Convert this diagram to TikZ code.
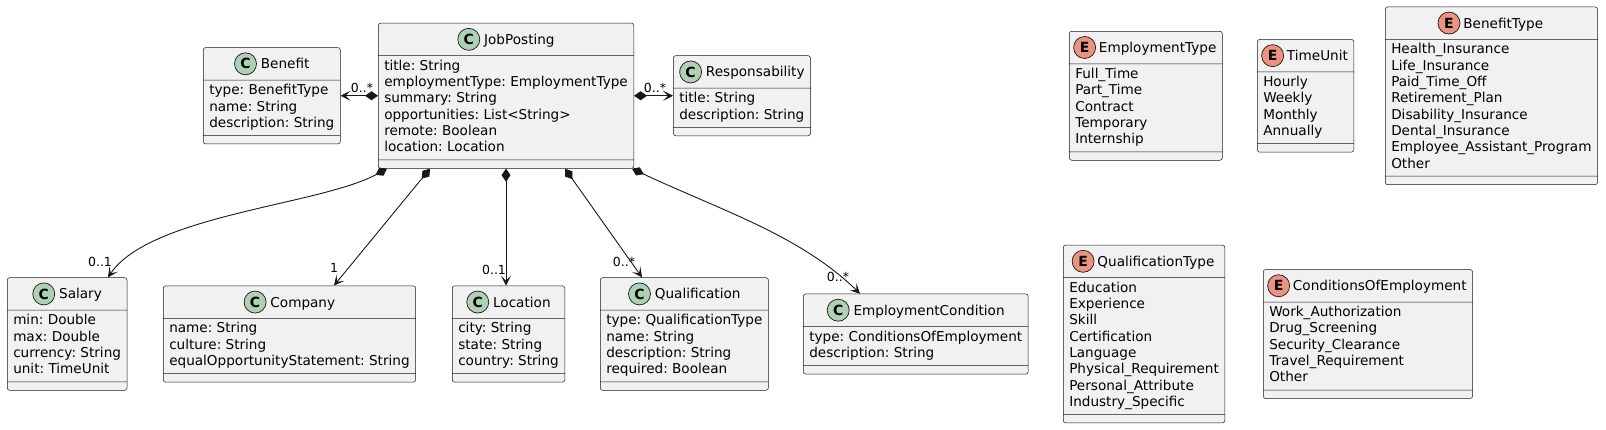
\documentclass[tikz,border=0pt]{standalone}
\usepackage{fontspec}
\setmainfont{DejaVu Sans}
\usetikzlibrary{math,shapes.multipart,arrows.meta}

\definecolor{boxfill}{HTML}{F1F1F1}
\definecolor{boxline}{HTML}{181818}
\definecolor{classicon}{HTML}{ADD1B2}
\definecolor{enumicon}{HTML}{EB937F}

\newsavebox\classbadge
\newsavebox\enumbadge
\newcommand\makebadge[3]{%
  \sbox#1{\begin{pgfpicture}\pgfsetbaseline{-5pt}%
    \pgfsetlinewidth{0.7pt}\pgfsetstrokecolor{boxline}\pgfsetfillcolor{#2}%
    \pgfpathcircle{\pgfpointorigin}{11pt}\pgfusepath{fill,stroke}%
    \pgftext{\fontsize{14}{14}\selectfont\bfseries #3}%
  \end{pgfpicture}}}
\AtBeginDocument{\makebadge\classbadge{classicon}{C}\makebadge\enumbadge{enumicon}{E}}
\newcommand\ctitle[1]{\rule[-8pt]{0pt}{26pt}\usebox\classbadge\hspace{4pt}#1}
\newcommand\etitle[1]{\rule[-8pt]{0pt}{26pt}\hspace{-2pt}\usebox\enumbadge\hspace{3pt}#1\hspace{-2pt}}
\newcommand\attrs[1]{\begin{tabular}{@{}l@{}}#1\end{tabular}}
\newcommand\nomethods{\rule{0pt}{2pt}}

\tikzset{
  umlclass/.style={rectangle split, rectangle split parts=3, draw=boxline, line width=0.5pt,
    fill=boxfill, rounded corners=2.5pt, inner xsep=6pt, inner ysep=3pt,
    rectangle split part align={center,left,left},
    anchor=west, font=\fontsize{13.6}{16.3}\selectfont\frenchspacing},
  comp/.style={draw=boxline, line width=0.9pt,
    {Diamond[length=13pt,width=9pt]}-{Stealth[length=10pt,width=10pt,inset=5pt]}},
  mult/.style={inner sep=0pt, font=\fontsize{12.5}{14}\selectfont},
}

\begin{document}
\begin{tikzpicture}[x=1pt,y=-1pt]
  \tikzmath{
    real \toprow, \botrow;
    \toprow=95.75;
    \botrow=334;
  }
  \useasboundingbox (0,0) rectangle (1606,429);

  \node[umlclass] (benefit) at (203,\toprow) {\ctitle{Benefit}\nodepart{two}\attrs{type: BenefitType\\name: String\\description: String}\nodepart{three}\nomethods};
  \node[umlclass] (job) at (378,\toprow) {\ctitle{JobPosting}\nodepart{two}\attrs{title: String\\employmentType: EmploymentType\\summary: String\\opportunities: List<String>\\remote: Boolean\\location: Location}\nodepart{three}\nomethods};
  \node[umlclass] (resp) at (673,\toprow) {\ctitle{Responsability}\nodepart{two}\attrs{title: String\\description: String}\nodepart{three}\nomethods};

  \node[umlclass] (salary) at (7,\botrow) {\ctitle{Salary}\nodepart{two}\attrs{min: Double\\max: Double\\currency: String\\unit: TimeUnit}\nodepart{three}\nomethods};
  \node[umlclass] (company) at (163,\botrow) {\ctitle{Company}\nodepart{two}\attrs{name: String\\culture: String\\equalOpportunityStatement: String}\nodepart{three}\nomethods};
  \node[umlclass] (location) at (452,\botrow) {\ctitle{Location}\nodepart{two}\attrs{city: String\\state: String\\country: String}\nodepart{three}\nomethods};
  \node[umlclass] (qual) at (600,\botrow) {\ctitle{Qualification}\nodepart{two}\attrs{type: QualificationType\\name: String\\description: String\\required: Boolean}\nodepart{three}\nomethods};
  \node[umlclass] (cond) at (803,\botrow) {\ctitle{EmploymentCondition}\nodepart{two}\attrs{type: ConditionsOfEmployment\\description: String}\nodepart{three}\nomethods};

  \node[umlclass] (emptype) at (1069,\toprow) {\etitle{EmploymentType}\nodepart{two}\attrs{Full\_Time\\Part\_Time\\Contract\\Temporary\\Internship}\nodepart{three}\nomethods};
  \node[umlclass] (timeunit) at (1257,\toprow) {\etitle{TimeUnit}\nodepart{two}\attrs{Hourly\\Weekly\\Monthly\\Annually}\nodepart{three}\nomethods};
  \node[umlclass] (bentype) at (1385,\toprow) {\etitle{BenefitType}\nodepart{two}\attrs{Health\_Insurance\\Life\_Insurance\\Paid\_Time\_Off\\Retirement\_Plan\\Disability\_Insurance\\Dental\_Insurance\\Employee\_Assistant\_Program\\Other}\nodepart{three}\nomethods};
  \node[umlclass] (qualtype) at (1063,\botrow) {\etitle{QualificationType}\nodepart{two}\attrs{Education\\Experience\\Skill\\Certification\\Language\\Physical\_Requirement\\Personal\_Attribute\\Industry\_Specific}\nodepart{three}\nomethods};
  \node[umlclass] (condtype) at (1263,\botrow) {\etitle{ConditionsOfEmployment}\nodepart{two}\attrs{Work\_Authorization\\Drug\_Screening\\Security\_Clearance\\Travel\_Requirement\\Other}\nodepart{three}\nomethods};

  \draw[comp] (job.west) -- (benefit.east);
  \draw[comp] (job.east) -- (resp.west);
  \draw[comp] (387,0 |- job.south) .. controls (320,205) and (150,215) .. (108,0 |- salary.north);
  \draw[comp] (430,0 |- job.south) -- (334,0 |- company.north);
  \draw[comp] (job.south) -- (job.south |- location.north);
  \draw[comp] (565,0 |- job.south) -- (642,0 |- qual.north);
  \draw[comp] (632,0 |- job.south) .. controls (720,210) and (800,235) .. (860,0 |- cond.north);

  \node[mult] (m1) at (362,88) {0..*};
  \node[mult] (m2) at (655,88) {0..*};
  \node[mult] (m3) at (100,262) {0..1};
  \node[mult] (m4) at (334,268) {1};
  \node[mult] (m5) at (494,270) {0..1};
  \node[mult] (m6) at (624,262) {0..*};
  \node[mult] (m7) at (838,277) {0..*};
\end{tikzpicture}
\end{document}
